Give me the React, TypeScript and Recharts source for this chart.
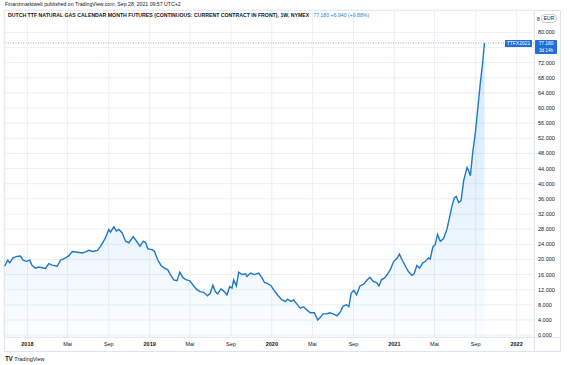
import { Area, ComposedChart, CartesianGrid, ReferenceLine, XAxis, YAxis } from "recharts"

const dates = [
  "2017-10-25", "2017-11-03", "2017-11-09", "2017-11-19", "2017-12-01", "2017-12-11", "2017-12-19", "2017-12-29",
  "2018-01-08", "2018-01-15", "2018-01-25", "2018-02-04", "2018-02-14", "2018-02-24", "2018-03-06", "2018-03-16",
  "2018-03-31", "2018-04-10", "2018-04-25", "2018-05-05", "2018-05-15", "2018-05-30", "2018-06-14", "2018-06-24",
  "2018-07-04", "2018-07-14", "2018-07-29", "2018-08-08", "2018-08-22", "2018-09-01", "2018-09-06", "2018-09-16",
  "2018-09-24", "2018-10-01", "2018-10-11", "2018-10-21", "2018-10-31", "2018-11-13", "2018-11-23", "2018-12-03",
  "2018-12-13", "2018-12-20", "2018-12-27", "2019-01-08", "2019-01-15", "2019-01-25", "2019-02-04", "2019-02-14",
  "2019-02-24", "2019-03-04", "2019-03-14", "2019-03-24", "2019-04-01", "2019-04-11", "2019-04-21", "2019-04-30",
  "2019-05-10", "2019-05-22", "2019-06-01", "2019-06-11", "2019-06-23", "2019-07-01", "2019-07-09", "2019-07-16",
  "2019-07-23", "2019-08-02", "2019-08-12", "2019-08-20", "2019-08-28", "2019-09-04", "2019-09-09", "2019-09-17",
  "2019-09-24", "2019-10-04", "2019-10-14", "2019-10-19", "2019-10-29", "2019-11-10", "2019-11-23", "2019-12-03",
  "2019-12-10", "2019-12-20", "2019-12-30", "2020-01-06", "2020-01-18", "2020-01-31", "2020-02-10", "2020-02-17",
  "2020-02-27", "2020-03-06", "2020-03-16", "2020-03-26", "2020-04-05", "2020-04-15", "2020-04-25", "2020-05-07",
  "2020-05-17", "2020-05-25", "2020-06-02", "2020-06-12", "2020-06-22", "2020-07-02", "2020-07-14", "2020-07-24",
  "2020-08-01", "2020-08-11", "2020-08-18", "2020-08-25", "2020-09-02", "2020-09-10", "2020-09-20", "2020-09-30",
  "2020-10-12", "2020-10-20", "2020-10-30", "2020-11-09", "2020-11-16", "2020-11-23", "2020-12-03", "2020-12-11",
  "2020-12-21", "2020-12-30", "2021-01-09", "2021-01-16", "2021-01-24", "2021-02-03", "2021-02-12", "2021-02-22",
  "2021-03-01", "2021-03-09", "2021-03-17", "2021-03-27", "2021-04-04", "2021-04-13", "2021-04-18", "2021-04-26",
  "2021-05-03", "2021-05-10", "2021-05-18", "2021-05-28", "2021-06-07", "2021-06-12", "2021-06-22", "2021-06-29",
  "2021-07-05", "2021-07-12", "2021-07-19", "2021-07-27", "2021-08-06", "2021-08-11", "2021-08-16", "2021-08-23",
  "2021-08-31", "2021-09-07", "2021-09-15", "2021-09-22", "2021-09-27",
]

const prices = [
  18.2, 19.8, 19.1, 20.4, 20.8, 20.9, 19.8, 19.5,
  19.8, 18.4, 17.7, 18.0, 17.8, 17.6, 18.9, 18.5,
  18.2, 19.8, 20.4, 21.0, 22.1, 21.9, 21.7, 22.0,
  22.4, 22.1, 22.4, 23.5, 25.7, 27.9, 27.2, 28.6,
  27.5, 27.9, 27.0, 24.8, 24.4, 26.0, 24.8, 23.5,
  24.8, 24.4, 22.8, 22.6, 22.2, 19.9, 18.4, 17.7,
  17.3, 16.0, 14.6, 14.4, 16.6, 15.1, 14.6, 14.4,
  13.3, 12.0, 11.5, 11.3, 10.4, 11.1, 13.2, 11.5,
  10.9, 12.2, 11.5, 10.6, 12.8, 12.4, 14.6, 13.0,
  16.6, 16.0, 16.2, 15.5, 16.4, 16.0, 16.4, 15.1,
  13.9, 13.6, 13.0, 12.0, 10.6, 9.3, 8.9, 9.5,
  8.9, 9.3, 8.2, 7.1, 7.5, 6.6, 5.9, 5.9,
  4.0, 4.7, 5.6, 5.6, 5.9, 5.6, 5.1, 6.2,
  7.7, 8.0, 7.5, 11.1, 11.8, 10.6, 13.0, 13.4,
  14.6, 15.3, 14.2, 13.9, 13.0, 14.6, 15.1, 16.0,
  17.5, 19.5, 20.3, 21.4, 19.9, 18.2, 16.8, 15.8,
  16.2, 18.4, 17.7, 19.1, 19.5, 20.4, 20.1, 23.3,
  23.9, 26.6, 24.8, 25.5, 28.0, 30.0, 34.1, 36.3,
  36.6, 35.0, 35.5, 40.8, 44.3, 43.4, 42.1, 48.3,
  53.6, 59.8, 66.9, 72.3, 77.18,
]

const tickDates = [
  "2018-01-01", "2018-05-01", "2018-09-01", "2019-01-01", "2019-05-01", "2019-09-01", "2020-01-01",
  "2020-05-01", "2020-09-01", "2021-01-01", "2021-05-01", "2021-09-01", "2022-01-01",
]
const tickLabels = ["2018", "Mai", "Sep", "2019", "Mai", "Sep", "2020", "Mai", "Sep", "2021", "Mai", "Sep", "2022"]

const priceTicks = [0, 4, 8, 12, 16, 20, 24, 28, 32, 36, 40, 44, 48, 52, 56, 60, 64, 68, 72, 76, 80]
// the 76 label sits under the last-price tag, so it is not printed
const hiddenPriceLabels = [76]

const lastPrice = 77.18
const xStart = "2017-10-23"
const xEnd = "2022-02-22"

const data = dates.map((d, i) => ({ t: Date.parse(d), v: prices[i] }))
const xTicks = tickDates.map((d) => Date.parse(d))

const FONT = "'Liberation Sans', Arial, sans-serif"
const INK = "#131722"
const BLUE = "#1f6fd6"

function TimeTick(props: any) {
  const { x, y, payload } = props
  const i = xTicks.indexOf(payload.value)
  const label = tickLabels[i] ?? ""
  const isYear = /^\d+$/.test(label)
  return (
    <text x={x} y={y} dy="0.71em" textAnchor="middle" fontSize={5.5} fontFamily={FONT} fill={INK} fontWeight={isYear ? 700 : 400}>
      {label}
    </text>
  )
}

function PriceTick(props: any) {
  const { x, y, payload } = props
  if (hiddenPriceLabels.includes(payload.value)) return <g />
  return (
    <text x={x} y={y} dy="0.355em" textAnchor="start" fontSize={5.5} fontFamily={FONT} fill={INK}>
      {payload.value.toFixed(3)}
    </text>
  )
}

function PriceTag(props: any) {
  const { x, y, width } = props.viewBox
  const right = x + width
  return (
    <g fontFamily={FONT}>
      <rect x={right - 29} y={y - 3} width={27} height={7} fill={BLUE} />
      <text x={right - 15.5} y={y + 2.4} textAnchor="middle" fontSize={5} fill="#fff">TTFX2021</text>
      <rect x={right + 1} y={y - 3} width={22} height={14} rx={1} fill={BLUE} />
      <text x={right + 12} y={y + 2.2} textAnchor="middle" fontSize={4.8} fill="#fff">77.180</text>
      <text x={right + 12} y={y + 9.4} textAnchor="middle" fontSize={4.6} fill="#fff">3d 14h</text>
    </g>
  )
}

export default function App() {
  return (
    <div style={{ position: "absolute", left: 0, top: 0, width: 567, height: 365, background: "#fff", fontFamily: FONT }}>
      <div style={{ position: "absolute", left: 5, top: 1, fontSize: 5.2, color: INK, whiteSpace: "nowrap" }}>
        Finanzmarktwelt published on TradingView.com, Sep 28, 2021 09:57 UTC+2
      </div>
      <div style={{ position: "absolute", left: 4, top: 10, width: 557, height: 342, border: "1px solid #e0e3eb", boxSizing: "border-box" }} />
      <div style={{ position: "absolute", left: 534, top: 10, width: 1, height: 342, background: "#e0e3eb" }} />
      <div style={{ position: "absolute", left: 4, top: 337, width: 557, height: 1, background: "#e0e3eb" }} />
      <ComposedChart
        width={567}
        height={365}
        data={data}
        margin={{ top: 10, right: 6, left: 4, bottom: 13 }}
        style={{ position: "absolute", left: 0, top: 0 }}
      >
        <defs>
          <linearGradient id="ttfFill" x1="0" y1="0" x2="0" y2="1">
            <stop offset="0%" stopColor="#2196f3" stopOpacity={0.36} />
            <stop offset="100%" stopColor="#2196f3" stopOpacity={0.03} />
          </linearGradient>
        </defs>
        <CartesianGrid stroke="#eceff5" strokeWidth={1} />
        <XAxis
          dataKey="t"
          type="number"
          scale="linear"
          domain={[Date.parse(xStart), Date.parse(xEnd)]}
          ticks={xTicks}
          interval={0}
          allowDataOverflow
          height={15}
          tickSize={0}
          tickMargin={5}
          axisLine={false}
          tick={<TimeTick />}
        />
        <YAxis
          orientation="right"
          domain={[-0.5, 85.9]}
          ticks={priceTicks}
          interval={0}
          allowDataOverflow
          width={27}
          tickSize={0}
          tickMargin={4}
          axisLine={false}
          tick={<PriceTick />}
        />
        <ReferenceLine y={lastPrice} stroke="#9598a1" strokeDasharray="1 1.5" strokeWidth={0.8} label={<PriceTag />} />
        <Area
          type="linear"
          dataKey="v"
          stroke="#1e78c8"
          strokeWidth={1.4}
          fill="url(#ttfFill)"
          dot={false}
          activeDot={false}
          isAnimationActive={false}
        />
      </ComposedChart>
      <div style={{ position: "absolute", left: 8, top: 12, fontSize: 5.2, whiteSpace: "nowrap", color: INK }}>
        <span style={{ fontWeight: 700 }}>
          DUTCH TTF NATURAL GAS CALENDAR MONTH FUTURES (CONTINUOUS: CURRENT CONTRACT IN FRONT), 1W, NYMEX
        </span>
        <span style={{ color: "#2a83d6", marginLeft: 4 }}>77.180 +6.940 (+9.88%)</span>
      </div>
      <div style={{ position: "absolute", left: 537, top: 14, fontSize: 5, color: INK, display: "flex", alignItems: "center", gap: 1 }}>
        <span>8</span>
        <span style={{ border: "1px solid #c9ccd4", borderRadius: 4, padding: "0 2px", lineHeight: "7px" }}>EUR</span>
      </div>
      <div style={{ position: "absolute", left: 5, top: 355, fontSize: 5.5, color: INK, display: "flex", alignItems: "center", gap: 2 }}>
        <span style={{ fontWeight: 900, fontSize: 6.5, letterSpacing: -0.5 }}>TV</span>
        <span>TradingView</span>
      </div>
    </div>
  )
}
